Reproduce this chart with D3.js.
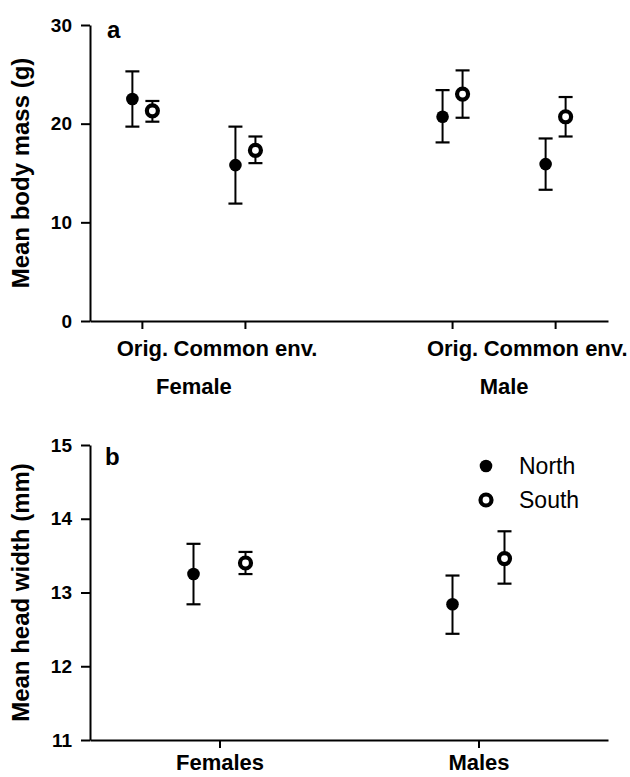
<!DOCTYPE html>
<html>
<head>
<meta charset="utf-8">
<script src="https://cdn.jsdelivr.net/npm/d3@7/dist/d3.min.js"></script>
<style>
  html, body { margin: 0; padding: 0; background: #fff; }
  svg { display: block; }
  text { font-family: "Liberation Sans", Arial, Helvetica, sans-serif; fill: #000; }
</style>
</head>
<body>
<svg id="chart" width="630" height="777"></svg>
<script>
// ---------- Data ----------
const sexes = ["Female", "Male"];
const conditions = ["Orig.", "Common env."];
const populations = ["North", "South"];

// Panel a: order = Female Orig, Female Common env., Male Orig, Male Common env.
const massNorthMean = [22.5, 15.8, 20.7, 15.9];
const massNorthLow  = [19.7, 11.9, 18.1, 13.3];
const massNorthHigh = [25.3, 19.7, 23.4, 18.5];
const massSouthMean = [21.3, 17.3, 23.0, 20.7];
const massSouthLow  = [20.2, 16.0, 20.6, 18.7];
const massSouthHigh = [22.3, 18.7, 25.4, 22.7];
const massTicks = [0, 10, 20, 30];

// Panel b
const headGroups = ["Females", "Males"];
const headNorthMean = [13.25, 12.84];
const headNorthLow  = [12.84, 12.44];
const headNorthHigh = [13.66, 13.23];
const headSouthMean = [13.40, 13.46];
const headSouthLow  = [13.25, 13.12];
const headSouthHigh = [13.55, 13.83];
const headTicks = [11, 12, 13, 14, 15];

// ---------- Layout ----------
const svg = d3.select("#chart");
const left = 90, right = 608;
const aTop = 25, aBottom = 321;
const bTop = 445, bBottom = 740;

const FONT_TICK = 19, FONT_XLAB = 22, FONT_TITLE = 24, FONT_PANEL = 24, FONT_LEG = 23;

function styleAxis(g) {
  g.selectAll("path, line").attr("stroke", "#000").attr("stroke-width", 2);
  g.selectAll("text").attr("font-size", FONT_TICK).attr("font-weight", "bold")
    .attr("font-family", '"Liberation Sans", Arial, sans-serif').attr("fill", "#000");
}

function styleMarker(sel, popOf) {
  sel.attr("r", d => popOf(d) === "North" ? 6.3 : 5.5)
    .attr("fill", d => popOf(d) === "North" ? "#000" : "#fff")
    .attr("stroke", d => popOf(d) === "North" ? "none" : "#000")
    .attr("stroke-width", 4.2);
}

function drawPoints(g, rows, xf, y) {
  const capHalf = 7;
  const grp = g.selectAll("g.pt").data(rows).join("g").attr("class", "pt");
  grp.append("line")
    .attr("x1", d => xf(d)).attr("x2", d => xf(d))
    .attr("y1", d => y(d.low)).attr("y2", d => y(d.high))
    .attr("stroke", "#000").attr("stroke-width", 2);
  grp.append("line")
    .attr("x1", d => xf(d) - capHalf).attr("x2", d => xf(d) + capHalf)
    .attr("y1", d => y(d.high)).attr("y2", d => y(d.high))
    .attr("stroke", "#000").attr("stroke-width", 2.2);
  grp.append("line")
    .attr("x1", d => xf(d) - capHalf).attr("x2", d => xf(d) + capHalf)
    .attr("y1", d => y(d.low)).attr("y2", d => y(d.low))
    .attr("stroke", "#000").attr("stroke-width", 2.2);
  grp.append("circle")
    .attr("cx", d => xf(d)).attr("cy", d => y(d.mean))
    .call(styleMarker, d => d.pop);
}

// ---------- Panel a ----------
{
  const g = svg.append("g");
  const y = d3.scaleLinear().domain([0, 30]).range([aBottom, aTop]);
  const xSex = d3.scaleBand().domain(sexes).range([left, right]).paddingInner(0.4).paddingOuter(0.035);
  const xCond = d3.scalePoint().domain(conditions).range([0, xSex.bandwidth()]).padding(0.403);
  const xPop = d3.scalePoint().domain(populations).range([-10, 10]);

  const rows = [];
  sexes.forEach((s, si) => conditions.forEach((c, ci) => {
    const i = si * conditions.length + ci;
    rows.push({ sex: s, cond: c, pop: "North", mean: massNorthMean[i], low: massNorthLow[i], high: massNorthHigh[i] });
    rows.push({ sex: s, cond: c, pop: "South", mean: massSouthMean[i], low: massSouthLow[i], high: massSouthHigh[i] });
  }));
  const xc = d => xSex(d.sex) + xCond(d.cond);
  const xf = d => xc(d) + xPop(d.pop);

  g.append("g").attr("transform", `translate(${left},0)`)
    .call(d3.axisLeft(y).tickValues(massTicks).tickFormat(d3.format("d")).tickSize(9).tickSizeOuter(0).tickPadding(9))
    .call(styleAxis);
  g.append("g").attr("transform", `translate(0,${aBottom})`)
    .call(d3.axisBottom(xSex).tickSize(0).tickSizeOuter(0).tickFormat(""))
    .call(styleAxis);
  const tickData = [];
  sexes.forEach(s => conditions.forEach(c => tickData.push({ sex: s, cond: c })));
  g.selectAll("line.xt").data(tickData).join("line").attr("class", "xt")
    .attr("x1", xc).attr("x2", xc).attr("y1", aBottom).attr("y2", aBottom + 8)
    .attr("stroke", "#000").attr("stroke-width", 2);
  g.selectAll("text.xl").data(tickData).join("text").attr("class", "xl")
    .attr("x", xc).attr("y", aBottom + 35)
    .attr("text-anchor", "middle").attr("font-size", FONT_XLAB).attr("font-weight", "bold")
    .text(d => d.cond);
  g.selectAll("text.sl").data(sexes).join("text").attr("class", "sl")
    .attr("x", d => xSex(d) + xSex.bandwidth() / 2).attr("y", aBottom + 73)
    .attr("text-anchor", "middle").attr("font-size", FONT_XLAB).attr("font-weight", "bold")
    .text(d => d);

  g.append("text")
    .attr("transform", `translate(29,${(aTop + aBottom) / 2}) rotate(-90)`)
    .attr("text-anchor", "middle").attr("font-size", FONT_TITLE).attr("font-weight", "bold")
    .text("Mean body mass (g)");
  g.append("text").attr("x", 107).attr("y", 38)
    .attr("font-size", FONT_PANEL).attr("font-weight", "bold").text("a");

  drawPoints(g, rows, xf, y);
}

// ---------- Panel b ----------
{
  const g = svg.append("g");
  const y = d3.scaleLinear().domain([11, 15]).range([bBottom, bTop]);
  const xGrp = d3.scalePoint().domain(headGroups).range([left, right]).padding(0.5);
  const xPop = d3.scalePoint().domain(populations).range([-26, 26]);

  const rows = [];
  headGroups.forEach((s, i) => {
    rows.push({ grp: s, pop: "North", mean: headNorthMean[i], low: headNorthLow[i], high: headNorthHigh[i] });
    rows.push({ grp: s, pop: "South", mean: headSouthMean[i], low: headSouthLow[i], high: headSouthHigh[i] });
  });
  const xf = d => xGrp(d.grp) + xPop(d.pop);

  g.append("g").attr("transform", `translate(${left},0)`)
    .call(d3.axisLeft(y).tickValues(headTicks).tickFormat(d3.format("d")).tickSize(9).tickSizeOuter(0).tickPadding(9))
    .call(styleAxis);
  g.append("g").attr("transform", `translate(0,${bBottom})`)
    .call(d3.axisBottom(xGrp).tickSize(8).tickSizeOuter(0).tickPadding(6))
    .call(styleAxis)
    .call(a => a.selectAll("text").attr("font-size", FONT_XLAB).attr("dy", "0.71em"));

  g.append("text")
    .attr("transform", `translate(29,${(bTop + bBottom) / 2}) rotate(-90)`)
    .attr("text-anchor", "middle").attr("font-size", FONT_TITLE).attr("font-weight", "bold")
    .text("Mean head width (mm)");
  g.append("text").attr("x", 105).attr("y", 465)
    .attr("font-size", FONT_PANEL).attr("font-weight", "bold").text("b");

  drawPoints(g, rows, xf, y);

  const leg = g.append("g").attr("transform", "translate(486,466)");
  const li = leg.selectAll("g").data(populations).join("g")
    .attr("transform", (d, i) => `translate(0,${i * 34})`);
  li.append("circle").call(styleMarker, d => d);
  li.append("text").attr("x", 33).attr("y", 8)
    .attr("font-size", FONT_LEG).text(d => d);
}
</script>
</body>
</html>
